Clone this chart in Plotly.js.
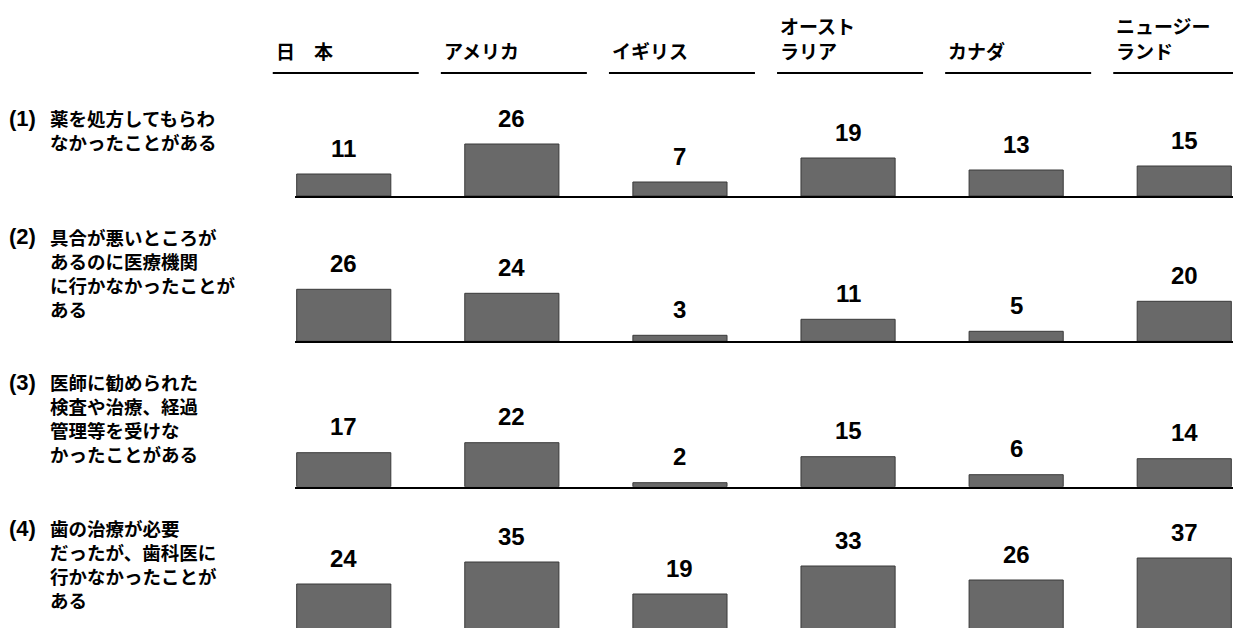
<!DOCTYPE html>
<html>
<head>
<meta charset="utf-8">
<script src="https://cdn.plot.ly/plotly-3.0.1.min.js"></script>
<style>html,body{margin:0;padding:0;background:#fff;overflow:hidden;}#chart{width:1233px;height:628px;}</style>
</head>
<body>
<div id="chart"></div>
<script>
// ---- data ----
const countries = ['日本', 'アメリカ', 'イギリス', 'オーストラリア', 'カナダ', 'ニュージーランド'];
const headerLines = [['日　本'], ['アメリカ'], ['イギリス'], ['オースト', 'ラリア'], ['カナダ'], ['ニュージー', 'ランド']];
const questionNumbers = ['(1)', '(2)', '(3)', '(4)'];
const questionLines = [
  ['薬を処方してもらわ', 'なかったことがある'],
  ['具合が悪いところが', 'あるのに医療機関', 'に行かなかったことが', 'ある'],
  ['医師に勧められた', '検査や治療、経過', '管理等を受けな', 'かったことがある'],
  ['歯の治療が必要', 'だったが、歯科医に', '行かなかったことが', 'ある']
];
const q1 = [11, 26, 7, 19, 13, 15];
const q2 = [26, 24, 3, 11, 5, 20];
const q3 = [17, 22, 2, 15, 6, 14];
const q4 = [24, 35, 19, 33, 26, 37];
const series = [q1, q2, q3, q4];

// ---- layout helpers ----
const W = 1233, H = 628;
const py = p => 1 - p / H;
const jpFont = '"Noto Sans CJK JP", "Noto Sans", sans-serif';
const numFont = '"Liberation Sans", Arial, sans-serif';
const baselines = [196, 341.3, 486.7, 632];
const rowHeight = 130; // px
const pxPerUnit = 2;
const plotLeft = 295;
const xRange = [-0.29, 5.29];
const pxPerCat = (W - plotLeft) / (xRange[1] - xRange[0]);
const catPx = k => plotLeft + (k - xRange[0]) * pxPerCat;
const labelSize = 18.5;
const labelLine = labelSize * 1.3;

const data = [];
const layout = {
  width: W, height: H,
  margin: {l: 0, r: 0, t: 0, b: 0},
  paper_bgcolor: '#ffffff', plot_bgcolor: 'rgba(0,0,0,0)',
  showlegend: false,
  annotations: [], shapes: [],
  bargap: 0
};

series.forEach((vals, r) => {
  const sfx = r === 0 ? '' : String(r + 1);
  const base = baselines[r];
  const top = base - rowHeight;
  const bottomPx = Math.min(base, H);
  const yMin = (base - bottomPx) / pxPerUnit;
  const yMax = yMin + (bottomPx - top) / pxPerUnit;
  layout['xaxis' + sfx] = {
    domain: [plotLeft / W, 1], range: xRange, type: 'category',
    showticklabels: false, showgrid: false, zeroline: false, ticks: '',
    showline: base < H, linecolor: '#000', linewidth: 2,
    anchor: 'y' + sfx, fixedrange: true
  };
  layout['yaxis' + sfx] = {
    domain: [py(bottomPx), py(top)], range: [yMin, yMax],
    visible: false, showgrid: false, zeroline: false,
    anchor: 'x' + sfx, fixedrange: true
  };
  data.push({
    type: 'bar', x: countries, y: vals, width: 0.56,
    xaxis: 'x' + sfx, yaxis: 'y' + sfx,
    marker: {color: '#696969', line: {color: '#3a3a3a', width: 1}},
    hoverinfo: 'x+y', cliponaxis: true
  });
  vals.forEach((v, k) => {
    layout.annotations.push({
      xref: 'x' + sfx, yref: 'y' + sfx, x: countries[k], y: v,
      text: '<b>' + v + '</b>', showarrow: false,
      yanchor: 'middle', yshift: 26,
      font: {family: numFont, size: 24, color: '#000'}
    });
  });
  // row labels
  const firstLineY = [118, 237, 382, 528][r];
  const lines = questionLines[r];
  layout.annotations.push({
    xref: 'paper', yref: 'paper', x: 7 / W, y: py(firstLineY),
    xanchor: 'left', yanchor: 'middle', showarrow: false,
    text: '<b>' + questionNumbers[r] + '</b>',
    font: {family: numFont, size: 22, color: '#000'}
  });
  layout.annotations.push({
    xref: 'paper', yref: 'paper', x: 48 / W,
    y: py(firstLineY + (lines.length - 1) * labelLine / 2),
    xanchor: 'left', yanchor: 'middle', align: 'left', showarrow: false,
    text: lines.map(l => '<b>' + l + '</b>').join('<br>'),
    font: {family: jpFont, size: labelSize, color: '#000'}
  });
});

// column headers with underline
headerLines.forEach((lines, k) => {
  const left = catPx(k) - 71;
  layout.annotations.push({
    xref: 'paper', yref: 'paper', x: (left + 1) / W, y: py(66),
    xanchor: 'left', yanchor: 'bottom', align: 'left', showarrow: false,
    text: lines.map(l => '<b>' + l + '</b>').join('<br>'),
    font: {family: jpFont, size: 19, color: '#000'}
  });
  layout.shapes.push({
    type: 'line', xref: 'paper', yref: 'paper',
    x0: left / W, x1: (left + 146) / W, y0: py(73), y1: py(73),
    line: {color: '#000', width: 2}
  });
});

Plotly.newPlot('chart', data, layout, {displayModeBar: false, staticPlot: true});
</script>
</body>
</html>
